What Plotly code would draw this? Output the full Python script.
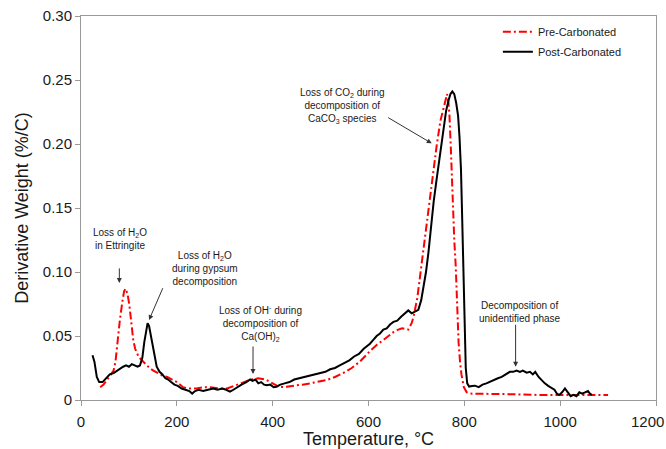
import plotly.graph_objects as go

# ---- data ----
post_T = [24, 28, 33, 38, 45, 52, 60, 68, 75, 82, 88, 94, 100, 106, 112, 118, 123, 128, 132, 136,
          139, 142, 146, 150, 154, 158, 164, 170, 176, 182, 188, 195, 202, 210, 218, 226, 232, 238,
          245, 255, 265, 276, 285, 295, 303, 311, 318, 326, 335, 345, 353, 358, 364, 370, 376, 382,
          388, 395, 402, 408, 416, 425, 435, 445, 457, 468, 478, 490, 499, 510, 520, 530, 540, 550,
          560, 570, 580, 590, 596, 603, 610, 617, 624, 631, 638, 645, 652, 660, 668, 675, 683, 690,
          697, 704, 710, 715, 720, 725, 730, 736, 742, 749, 756, 762, 767, 771, 775, 779, 783, 787,
          790, 793, 795, 797, 799, 801, 803, 806, 810, 816, 822, 830, 838, 846, 854, 862, 870, 878,
          886, 895, 902, 909, 916, 922, 930, 937, 943, 948, 955, 961, 968, 975, 982, 988, 993, 998,
          1004, 1010, 1016, 1022, 1028, 1034, 1040, 1046, 1052, 1058, 1062, 1066]
post_V = [0.035, 0.030, 0.018, 0.014, 0.014, 0.017, 0.020, 0.021, 0.023, 0.025, 0.026, 0.027, 0.026,
          0.028, 0.027, 0.026, 0.027, 0.033, 0.045, 0.056, 0.060, 0.058, 0.050, 0.040, 0.032, 0.026,
          0.022, 0.020, 0.017, 0.016, 0.014, 0.012, 0.011, 0.009, 0.008, 0.007, 0.005, 0.007, 0.008,
          0.007, 0.008, 0.009, 0.008, 0.009, 0.008, 0.0065, 0.008, 0.010, 0.012, 0.014, 0.016, 0.015,
          0.016, 0.013, 0.014, 0.012, 0.0115, 0.012, 0.010, 0.0104, 0.012, 0.013, 0.014, 0.016, 0.017,
          0.018, 0.019, 0.020, 0.021, 0.022, 0.024, 0.025, 0.027, 0.029, 0.031, 0.034, 0.036, 0.040,
          0.0417, 0.044, 0.047, 0.050, 0.052, 0.055, 0.056, 0.059, 0.061, 0.062, 0.065, 0.067, 0.070,
          0.0677, 0.069, 0.0705, 0.078, 0.088, 0.100, 0.115, 0.135, 0.155, 0.172, 0.192, 0.211, 0.226,
          0.234, 0.239, 0.241, 0.239, 0.232, 0.222, 0.205, 0.180, 0.150, 0.115, 0.080, 0.045, 0.025,
          0.013, 0.0105, 0.011, 0.0112, 0.010, 0.012, 0.013, 0.0145, 0.016, 0.017, 0.018, 0.020, 0.022,
          0.022, 0.023, 0.022, 0.023, 0.0214, 0.022, 0.020, 0.022, 0.018, 0.0156, 0.013, 0.011, 0.009,
          0.008, 0.005, 0.004, 0.006, 0.009, 0.006, 0.003, 0.004, 0.003, 0.006, 0.005, 0.006, 0.007,
          0.005, 0.004]

pre_T = [40, 47, 55, 62, 68, 72, 76, 81, 86, 90, 93, 97, 101, 105, 109, 113, 120, 127, 135, 143, 151,
         160, 170, 180, 190, 200, 213, 225, 241, 255, 270, 290, 305, 320, 339, 355, 370, 385, 395, 405,
         415, 429, 445, 462, 478, 495, 513, 530, 547, 565, 582, 600, 617, 635, 652, 662, 670, 683, 690,
         694, 698, 702, 706, 711, 718, 725, 733, 742, 750, 756, 760, 764, 767, 769, 772, 774, 777, 779,
         782, 784, 786, 788, 791, 794, 799, 805, 812, 830, 860, 900, 950, 1000, 1050, 1100]
pre_V = [0.010, 0.012, 0.016, 0.020, 0.023, 0.030, 0.045, 0.062, 0.076, 0.085, 0.087, 0.083, 0.074,
         0.060, 0.047, 0.040, 0.034, 0.031, 0.028, 0.025, 0.023, 0.021, 0.019, 0.018, 0.016, 0.014,
         0.010, 0.009, 0.009, 0.010, 0.010, 0.009, 0.009, 0.011, 0.014, 0.016, 0.017, 0.016, 0.014,
         0.012, 0.010, 0.0104, 0.011, 0.012, 0.013, 0.014, 0.0156, 0.018, 0.021, 0.025, 0.030, 0.037,
         0.043, 0.048, 0.053, 0.055, 0.056, 0.055, 0.060, 0.065, 0.072, 0.080, 0.092, 0.107, 0.127,
         0.146, 0.172, 0.198, 0.218, 0.228, 0.235, 0.239, 0.232, 0.222, 0.195, 0.172, 0.145, 0.125,
         0.105, 0.086, 0.062, 0.045, 0.030, 0.020, 0.010, 0.006, 0.005, 0.005, 0.0045, 0.0045, 0.004,
         0.004, 0.004, 0.004]

x_ticks = [0, 200, 400, 600, 800, 1000, 1200]
x_tick_text = ["0", "200", "400", "600", "800", "1000", "1200\u00a0\u00a0\u00a0\u00a0"]
y_ticks = [0, 0.05, 0.10, 0.15, 0.20, 0.25, 0.30]
y_tick_text = ["0", "0.05", "0.10", "0.15", "0.20", "0.25", "0.30"]

FONT = "Liberation Sans, Arial, sans-serif"
TXT = "#1a1a1a"
AX = "#9a9a9a"

fig = go.Figure()
fig.add_trace(go.Scatter(x=pre_T, y=pre_V, mode="lines", name="Pre-Carbonated", legendgroup="pre",
                         line=dict(color="#ff0000", width=2, dash="8px,3px,2px,3px")))
fig.add_trace(go.Scatter(x=post_T, y=post_V, mode="lines", name="Post-Carbonated", legendgroup="post",
                         line=dict(color="#000000", width=2)))

ann_font = dict(family=FONT, size=10, color=TXT)
texts = [
    (81, 0.126, "Loss of H<sub>2</sub>O<br>in Ettringite"),
    (259, 0.103, "Loss of H<sub>2</sub>O<br>during gypsum<br>decomposition"),
    (374, 0.0598, "Loss of OH<sup>-</sup> during<br>decomposition of<br>Ca(OH)<sub>2</sub>"),
    (545, 0.2297, "Loss of CO<sub>2</sub> during<br>decomposition of<br>CaCO<sub>3</sub> species"),
    (916, 0.069, "Decomposition of<br>unidentified phase"),
]
for tx, ty, t in texts:
    fig.add_annotation(x=tx, y=ty, text=t, showarrow=False, font=ann_font, align="center")

arrows = [
    (80, 0.0914, 80, 0.104),
    (142, 0.0625, 172, 0.0885),
    (359, 0.0203, 359, 0.043),
    (732, 0.2005, 638, 0.2213),
    (907, 0.026, 907, 0.060),
]
for hx, hy, tx, ty in arrows:
    fig.add_annotation(x=hx, y=hy, ax=tx, ay=ty, axref="x", ayref="y", text="",
                       showarrow=True, arrowhead=2, arrowsize=1, arrowwidth=1, arrowcolor="#333333")

fig.update_layout(
    width=666, height=449,
    margin=dict(l=81, r=10, t=16, b=49),
    paper_bgcolor="white", plot_bgcolor="white",
    font=dict(family=FONT, color=TXT),
    showlegend=True,
    legend=dict(x=0.725, y=0.997, xanchor="left", yanchor="top", bgcolor="rgba(0,0,0,0)",
                font=dict(family=FONT, size=11, color=TXT), traceorder="grouped", tracegroupgap=1),
)
fig.update_xaxes(range=[0, 1200], tickvals=x_ticks, ticktext=x_tick_text, showgrid=False, zeroline=False,
                 showline=True, linecolor=AX, linewidth=1, mirror=True, automargin=False,
                 ticks="outside", ticklen=5, tickcolor=AX, ticklabelstandoff=3, ticklabeloverflow="allow",
                 tickfont=dict(family=FONT, size=15, color=TXT),
                 title=dict(text="Temperature, °C", font=dict(family=FONT, size=18, color=TXT), standoff=15))
fig.update_yaxes(range=[0, 0.30], tickvals=y_ticks, ticktext=y_tick_text, showgrid=False, zeroline=False,
                 showline=True, linecolor=AX, linewidth=1, mirror=True, automargin=False,
                 ticks="outside", ticklen=5, tickcolor=AX,
                 tickfont=dict(family=FONT, size=15, color=TXT),
                 title=dict(text="Derivative Weight (%/C)", font=dict(family=FONT, size=18, color=TXT), standoff=9))

fig.write_html("out.html")
